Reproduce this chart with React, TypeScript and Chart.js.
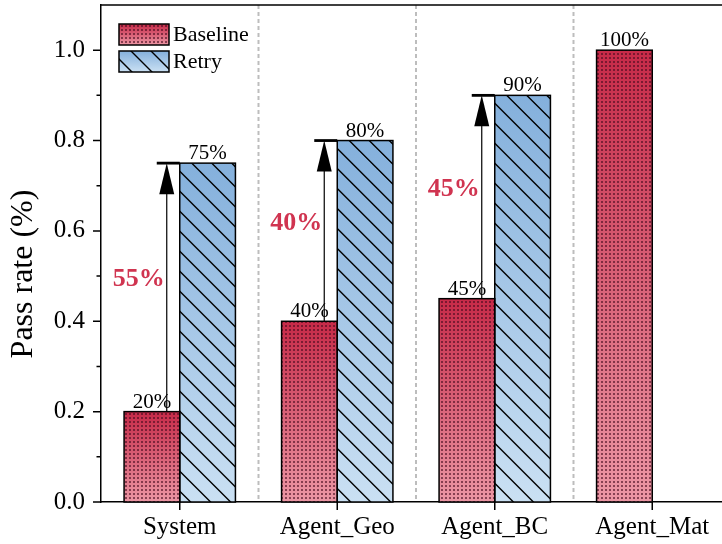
import React, { useEffect, useRef } from 'react';
import { Chart, registerables } from 'chart.js';
Chart.register(...registerables);

const categories = ['System', 'Agent_Geo', 'Agent_BC', 'Agent_Mat'];
const seriesNames = ['Baseline', 'Retry'];
const baseline: (number | null)[] = [0.2, 0.4, 0.45, 1.0];
const retry: (number | null)[] = [0.75, 0.8, 0.9, null];
const yTicks = [0, 0.2, 0.4, 0.6, 0.8, 1.0];
const yMinorTicks = [0.1, 0.3, 0.5, 0.7, 0.9];
const yTitle = 'Pass rate (%)';

const FONT = "'Liberation Serif', 'Times New Roman', serif";
const RED = ['rgb(198,42,72)', 'rgb(236,150,164)'];
const BLUE = ['rgb(132,176,220)', 'rgb(202,224,243)'];
const DIFF_COLOR = 'rgb(208,52,80)';

const W = 760;
const H = 544;

function grad(ctx: CanvasRenderingContext2D, top: number, bottom: number, cols: string[]) {
  const g = ctx.createLinearGradient(0, top, 0, bottom);
  g.addColorStop(0, cols[0]);
  g.addColorStop(1, cols[1]);
  return g;
}

function drawDots(ctx: CanvasRenderingContext2D, x0: number, y0: number, x1: number, y1: number) {
  ctx.save();
  ctx.beginPath();
  ctx.rect(x0, y0, x1 - x0, y1 - y0);
  ctx.clip();
  ctx.fillStyle = 'rgba(70,10,30,0.6)';
  for (let gy = Math.floor(y0 / 4) * 4; gy < y1; gy += 4) {
    for (let gx = Math.floor(x0 / 4) * 4; gx < x1; gx += 4) {
      ctx.fillRect(gx + 1, gy + 1, 2, 2);
    }
  }
  ctx.restore();
}

function drawHatch(ctx: CanvasRenderingContext2D, x0: number, y0: number, x1: number, y1: number, sp = 20) {
  ctx.save();
  ctx.beginPath();
  ctx.rect(x0, y0, x1 - x0, y1 - y0);
  ctx.clip();
  ctx.strokeStyle = '#000';
  ctx.lineWidth = 1.4;
  ctx.beginPath();
  const cStart = y0 - x1 - sp;
  const cEnd = y1 - x0 + sp;
  const base = y0 - x0 + 8;
  let c = base - Math.ceil((base - cStart) / sp) * sp;
  for (; c <= cEnd; c += sp) {
    ctx.moveTo(x0 - 2, x0 - 2 + c);
    ctx.lineTo(x1 + 2, x1 + 2 + c);
  }
  ctx.stroke();
  ctx.restore();
}

function fillSwatch(ctx: CanvasRenderingContext2D, idx: number, l: number, t: number, r: number, b: number) {
  ctx.save();
  ctx.fillStyle = grad(ctx, t, b, idx === 0 ? RED : BLUE);
  ctx.fillRect(l, t, r - l, b - t);
  ctx.restore();
  if (idx === 0) drawDots(ctx, l, t, r, b);
  else drawHatch(ctx, l, t, r, b);
  ctx.save();
  ctx.strokeStyle = '#000';
  ctx.lineWidth = 1.5;
  ctx.strokeRect(l, t, r - l, b - t);
  ctx.restore();
}

const decor = {
  id: 'decor',
  beforeDatasetsDraw(chart: any) {
    const { ctx, chartArea, scales } = chart;
    const x = scales.x;
    ctx.save();
    ctx.strokeStyle = '#bdbdbd';
    ctx.lineWidth = 2;
    ctx.setLineDash([4, 3]);
    for (let i = 1; i < categories.length; i++) {
      const px = (x.getPixelForValue(i - 1) + x.getPixelForValue(i)) / 2;
      ctx.beginPath();
      ctx.moveTo(px, chartArea.top);
      ctx.lineTo(px, chartArea.bottom);
      ctx.stroke();
    }
    ctx.restore();
  },
  afterDatasetsDraw(chart: any) {
    const { ctx } = chart;
    const metas = [chart.getDatasetMeta(0), chart.getDatasetMeta(1)];
    const sets = [baseline, retry];

    metas.forEach((meta: any, di: number) => {
      meta.data.forEach((bar: any, i: number) => {
        const v = sets[di][i];
        if (v == null) return;
        const p = bar.getProps(['x', 'y', 'base', 'width'], true);
        const l = p.x - p.width / 2;
        const r = p.x + p.width / 2;
        if (di === 0) drawDots(ctx, l, p.y, r, p.base);
        else drawHatch(ctx, l, p.y, r, p.base);
        ctx.save();
        ctx.strokeStyle = '#000';
        ctx.lineWidth = 1.5;
        ctx.strokeRect(l, p.y, r - l, p.base - p.y);
        ctx.restore();
      });
    });

    ctx.save();
    ctx.fillStyle = '#000';
    ctx.font = `21px ${FONT}`;
    ctx.textAlign = 'center';
    ctx.textBaseline = 'alphabetic';
    metas.forEach((meta: any, di: number) => {
      meta.data.forEach((bar: any, i: number) => {
        const v = sets[di][i];
        if (v == null) return;
        const p = bar.getProps(['x', 'y'], true);
        ctx.fillText(`${Math.round(v * 100)}%`, p.x, p.y - 4);
      });
    });
    ctx.restore();

    categories.forEach((_c, i) => {
      const bv = baseline[i];
      const rv = retry[i];
      if (bv == null || rv == null || rv <= bv) return;
      const b = metas[0].data[i].getProps(['x', 'y', 'width'], true);
      const r = metas[1].data[i].getProps(['x', 'y', 'width'], true);
      const ax = b.x + b.width / 2 - 13;
      ctx.save();
      ctx.strokeStyle = '#000';
      ctx.fillStyle = '#000';
      ctx.lineWidth = 1.2;
      ctx.beginPath();
      ctx.moveTo(ax, b.y);
      ctx.lineTo(ax, r.y + 28);
      ctx.stroke();
      ctx.beginPath();
      ctx.moveTo(ax, r.y);
      ctx.lineTo(ax - 7.5, r.y + 31);
      ctx.lineTo(ax + 7.5, r.y + 31);
      ctx.closePath();
      ctx.fill();
      ctx.lineWidth = 2.8;
      ctx.beginPath();
      ctx.moveTo(ax - 10, r.y);
      ctx.lineTo(r.x - r.width / 2, r.y);
      ctx.stroke();
      ctx.fillStyle = DIFF_COLOR;
      ctx.font = `bold 26px ${FONT}`;
      ctx.textAlign = 'right';
      ctx.textBaseline = 'middle';
      ctx.fillText(`${Math.round((rv - bv) * 100)}%`, ax - 2, (b.y + r.y) / 2 - 8);
      ctx.restore();
    });

    seriesNames.forEach((name, k) => {
      const t = 24 + k * 27;
      fillSwatch(ctx, k, 119, t, 169, t + 21);
      ctx.save();
      ctx.fillStyle = '#000';
      ctx.font = `22px ${FONT}`;
      ctx.textAlign = 'left';
      ctx.textBaseline = 'middle';
      ctx.fillText(name, 173, t + 11);
      ctx.restore();
    });
  },
  afterDraw(chart: any) {
    const { ctx, chartArea, scales } = chart;
    const x = scales.x;
    const y = scales.y;
    ctx.save();
    ctx.strokeStyle = '#000';
    ctx.lineWidth = 1.5;
    ctx.beginPath();
    ctx.moveTo(chartArea.left, chartArea.top);
    ctx.lineTo(chartArea.right, chartArea.top);
    yTicks.forEach((v) => {
      const py = y.getPixelForValue(v);
      ctx.moveTo(chartArea.left, py);
      ctx.lineTo(chartArea.left - 8, py);
    });
    yMinorTicks.forEach((v) => {
      const py = y.getPixelForValue(v);
      ctx.moveTo(chartArea.left, py);
      ctx.lineTo(chartArea.left - 4.5, py);
    });
    categories.forEach((_c, i) => {
      const px = x.getPixelForValue(i);
      ctx.moveTo(px, chartArea.bottom);
      ctx.lineTo(px, chartArea.bottom + 8);
    });
    ctx.stroke();
    // y axis title
    ctx.translate(24, 274);
    ctx.rotate(-Math.PI / 2);
    ctx.fillStyle = '#000';
    ctx.font = `32px ${FONT}`;
    ctx.textAlign = 'center';
    ctx.textBaseline = 'middle';
    ctx.fillText(yTitle, 0, 0);
    ctx.restore();
  },
};

export default function App() {
  const ref = useRef<HTMLCanvasElement | null>(null);
  useEffect(() => {
    if (!ref.current) return;
    const chart = new Chart(ref.current, {
      type: 'bar',
      data: {
        labels: categories,
        datasets: [
          {
            label: seriesNames[0],
            data: baseline,
            backgroundColor: (c: any) => {
              const ch = c.chart;
              const v = c.raw;
              if (!ch.chartArea || v == null || c.type !== 'data') return RED[0];
              return grad(ch.ctx, ch.scales.y.getPixelForValue(v), ch.scales.y.getPixelForValue(0), RED);
            },
            borderWidth: 0,
          },
          {
            label: seriesNames[1],
            data: retry,
            backgroundColor: (c: any) => {
              const ch = c.chart;
              const v = c.raw;
              if (!ch.chartArea || v == null || c.type !== 'data') return BLUE[0];
              return grad(ch.ctx, ch.scales.y.getPixelForValue(v), ch.scales.y.getPixelForValue(0), BLUE);
            },
            borderWidth: 0,
          },
        ],
      },
      options: {
        responsive: false,
        animation: false,
        events: [],
        categoryPercentage: 0.707,
        barPercentage: 1.0,
        layout: { padding: { left: 0, top: 5, right: W - 731, bottom: 0 } },
        plugins: {
          legend: { display: false },
          tooltip: { enabled: false },
        },
        scales: {
          x: {
            type: 'category',
            offset: true,
            grid: { display: false, drawTicks: false },
            border: { display: true, color: '#000', width: 1.5 },
            ticks: { color: '#000', font: { family: FONT, size: 25 }, padding: 10, maxRotation: 0, autoSkip: false },
            afterFit: (s: any) => { s.height = 42; s.paddingLeft = 0; s.paddingRight = 0; },
          },
          y: {
            type: 'linear',
            min: 0,
            max: 1.1,
            grid: { display: false, drawTicks: false },
            border: { display: true, color: '#000', width: 1.5 },
            afterBuildTicks: (s: any) => { s.ticks = yTicks.map((v) => ({ value: v })); },
            ticks: { color: '#000', font: { family: FONT, size: 25 }, padding: 16, callback: (v: any) => Number(v).toFixed(1) },
            title: { display: false },
            afterFit: (s: any) => { s.width = 101; s.paddingTop = 0; s.paddingBottom = 0; },
          },
        },
      },
      plugins: [decor],
    } as any);
    return () => chart.destroy();
  }, []);
  return (
    <div style={{ position: 'fixed', left: 0, top: 0, width: 722, height: 544, overflow: 'hidden', background: '#fff' }}>
      <canvas ref={ref} width={W} height={H} style={{ width: W, height: H, display: 'block' }} />
    </div>
  );
}
